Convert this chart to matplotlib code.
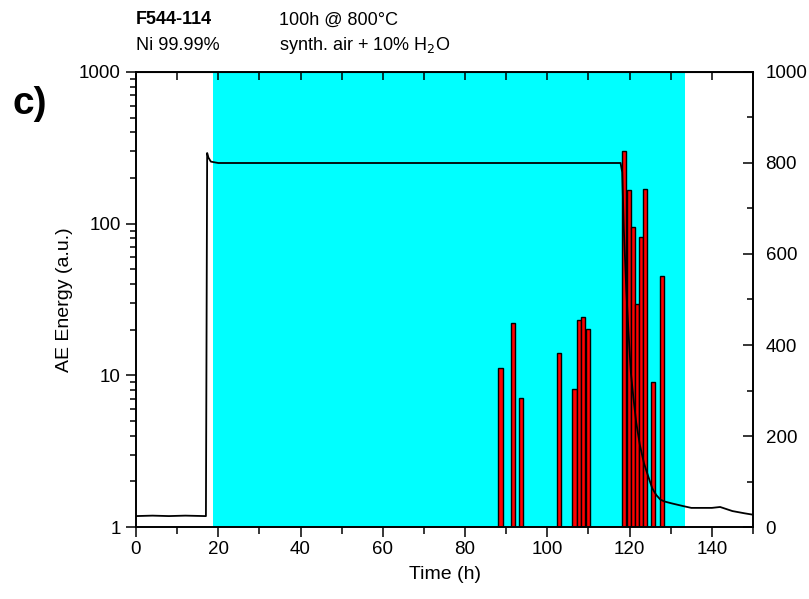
import matplotlib.pyplot as plt
from matplotlib.ticker import MultipleLocator, LogLocator, FuncFormatter, NullFormatter

plt.rcParams['font.family'] = ['Liberation Sans', 'DejaVu Sans']

# AE energy bars (time in h, energy in a.u.)
bar_time = [88.6, 91.6, 93.6, 102.8, 106.6, 107.7, 108.7, 109.8,
            118.7, 119.8, 120.8, 121.7, 122.7, 123.7, 125.7, 127.8]
bar_energy = [11.1, 22.2, 7.05, 14.1, 8.1, 23.1, 24.1, 20.2,
              300, 166, 95, 29.4, 82, 169, 9.0, 45.4]

# temperature trace (right axis, °C)
temp_time = [0, 4, 8, 12, 16.8, 17.0, 17.3, 17.6, 18.2, 20, 40, 60, 80, 100,
             117.8, 118.2, 118.6, 119.2, 119.7, 120.3, 120.9, 121.6, 122.5,
             123.5, 124.5, 125.5, 126.5, 127.5, 128.5, 130.2, 133, 135, 137,
             140, 142, 145, 148, 150]
temp_val = [24, 25, 24, 25, 24, 24, 822, 812, 803, 800, 800, 800, 800, 800,
            800, 780, 653, 520, 433, 340, 286, 230, 180,
            140, 112, 85, 70, 60, 56, 52, 46, 42, 42,
            42, 44, 35, 30, 27]

# heated section
span_start = 18.8
span_end = 133.5

fig = plt.figure(figsize=(8.09, 5.99), dpi=100)
ax = fig.add_axes([0.1681, 0.1202, 0.7627, 0.7596])

ax.axvspan(span_start, span_end, color='#00ffff', lw=0, zorder=0)
ax.set_yscale('log')
ax.bar(bar_time, [v - 1 for v in bar_energy], bottom=1, width=1.0,
       color='#ff0000', edgecolor='black', linewidth=1.0, zorder=2)
ax.set_xlim(0, 150)
ax.set_ylim(1, 1000)

ax.xaxis.set_major_locator(MultipleLocator(20))
ax.xaxis.set_minor_locator(MultipleLocator(10))
ax.yaxis.set_major_locator(LogLocator(base=10))
ax.yaxis.set_minor_locator(LogLocator(base=10, subs=range(2, 10)))
ax.yaxis.set_major_formatter(FuncFormatter(lambda v, p: f'{v:g}'))
ax.yaxis.set_minor_formatter(NullFormatter())

ax.tick_params(axis='x', which='major', direction='out', length=7, width=1.1,
               labelsize=13.5, pad=3)
ax.tick_params(axis='x', which='minor', direction='out', length=5, width=1.1)
ax.tick_params(axis='y', which='major', direction='out', length=7, width=1.1,
               labelsize=13.5, pad=4)
ax.tick_params(axis='y', which='minor', direction='out', length=4.5, width=1.1)
for s in ax.spines.values():
    s.set_linewidth(1.2)

ax.set_xlabel('Time (h)', fontsize=14, labelpad=6)
ax.set_ylabel('AE Energy (a.u.)', fontsize=14, labelpad=4)

# top axis ticks pointing inward
top = ax.secondary_xaxis('top')
top.xaxis.set_major_locator(MultipleLocator(10))
top.tick_params(direction='in', length=6, width=1.1, labeltop=False)

ax2 = ax.twinx()
ax2.plot(temp_time, temp_val, color='black', lw=1.3, zorder=3)
ax2.set_ylim(0, 1000)
ax2.yaxis.set_major_locator(MultipleLocator(200))
ax2.yaxis.set_minor_locator(MultipleLocator(100))
ax2.tick_params(axis='y', which='major', direction='in', length=7, width=1.1,
                labelsize=13.5, pad=9)
ax2.tick_params(axis='y', which='minor', direction='in', length=4.5, width=1.1)
for s in ax2.spines.values():
    s.set_linewidth(1.2)

fig.text(136 / 809, 1 - 20 / 599, 'F544-114', fontsize=13, fontweight='bold',
         va='center', ha='left')
fig.text(136 / 809, 1 - 46 / 599, 'Ni 99.99%', fontsize=13, va='center', ha='left')
fig.text(279 / 809, 1 - 20 / 599, '100h @ 800°C', fontsize=13, va='center', ha='left')
fig.text(279 / 809, 1 - 46 / 599, 'synth. air + 10% H$_2$O', fontsize=13,
         va='center', ha='left')
fig.text(12 / 809, 1 - 104 / 599, 'c)', fontsize=28, fontweight='bold',
         va='center', ha='left')

fig.savefig('out.png', dpi=100)
